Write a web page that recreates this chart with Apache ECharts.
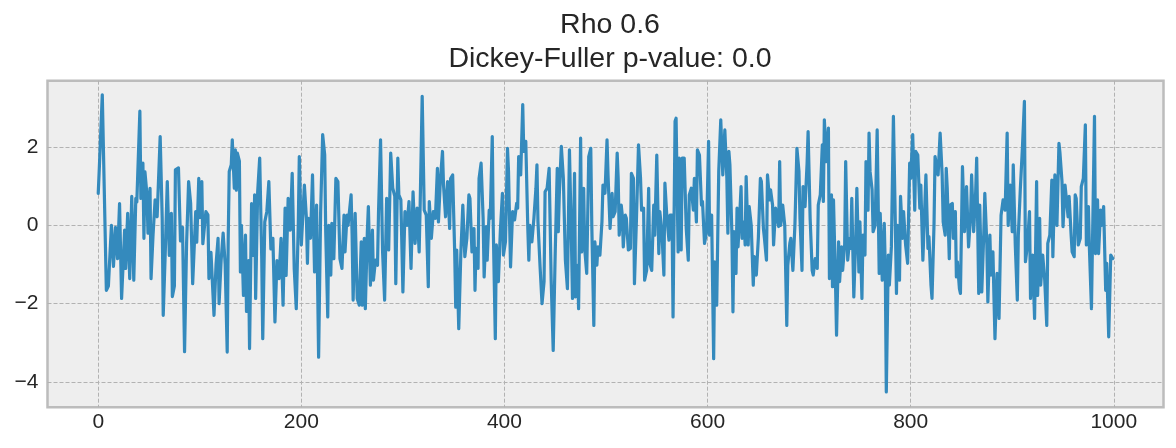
<!DOCTYPE html>
<html>
<head>
<meta charset="utf-8">
<script src="https://cdn.jsdelivr.net/npm/echarts@6/dist/echarts.min.js"></script>
<style>
html,body{margin:0;padding:0;background:#ffffff;}
#chart{width:1176px;height:448px;}
</style>
</head>
<body>
<div id="chart"></div>
<script>
var titleLines = ['Rho 0.6', 'Dickey-Fuller p-value: 0.0'];
var xTicks = [0, 200, 400, 600, 800, 1000];
var yTicks = [-4, -2, 0, 2];

var steps = [
0,1,4,8,10,13,15,17,19,21,23,26,27,29,31,33,35,37,38,41,42,44,45,46,48,49,51,52,54,56,58,61,63,64,66,68,70,72,73,75,76,79,81,83,85,87,89,91,93,96,97,
99,100,102,103,106,108,109,111,114,116,118,119,121,123,125,127,128,129,131,132,134,135,136,137,139,140,141,143,145,146,148,149,151,153,154,155,157,159,161,162,164,166,168,170,172,174,176,178,180,182,184,185,187,189,191,193,195,197,198,
200,203,205,206,207,209,211,213,215,217,219,221,223,224,226,227,229,230,232,234,236,238,240,242,243,245,246,249,250,251,253,255,257,259,260,262,263,265,266,268,270,271,273,275,276,278,280,282,284,286,288,290,292,293,295,296,298,300,302,304,306,308,
310,312,314,316,317,319,321,323,325,326,328,330,332,334,335,337,339,340,342,344,346,347,349,351,352,353,355,357,359,361,363,365,366,368,370,371,372,374,375,377,379,380,382,383,385,386,388,389,391,392,394,396,398,399,401,403,404,406,408,410,
412,413,414,416,418,419,421,423,424,425,427,429,431,432,433,435,437,439,440,442,444,446,448,450,452,453,454,456,458,460,462,464,466,467,469,470,472,473,475,476,478,479,481,483,485,486,488,489,491,492,494,496,497,499,501,502,504,506,507,509,511,512,513,
515,516,517,519,520,522,524,525,527,528,530,531,532,534,535,537,538,540,542,543,545,547,548,550,552,553,555,557,558,560,562,563,565,566,568,569,571,572,574,575,577,579,581,582,584,586,587,589,590,592,594,595,597,599,601,602,604,606,607,609,611,613,615,617,
619,620,621,622,624,625,626,628,629,630,632,633,634,636,637,638,640,641,643,645,646,648,650,652,653,655,656,658,659,661,662,664,665,667,668,670,671,672,674,676,678,679,681,682,684,686,688,690,691,693,694,696,698,699,701,703,704,706,708,709,711,713,714,715,717,719,720,
722,723,724,726,727,729,730,732,733,735,736,738,740,741,742,744,746,747,749,750,752,753,755,756,758,759,760,762,763,765,767,769,770,772,774,775,776,778,779,781,783,785,786,787,789,790,792,793,795,797,799,800,802,804,805,807,809,810,812,813,815,817,818,820,821,823,824,
827,829,831,832,834,835,836,838,839,841,842,844,845,846,848,849,851,853,855,856,857,859,860,862,864,865,867,868,870,872,873,875,876,878,879,881,882,883,885,887,889,891,893,895,896,898,900,901,903,905,906,908,910,912,913,915,917,918,920,922,924,925,927,
928,930,932,934,935,937,939,940,942,944,946,947,949,950,952,953,955,956,958,959,961,962,963,965,967,968,970,972,973,975,976,978,981,982,984,985,987,988,990,992,993,995,997,999
];

var values = [
0.82,1.42,3.34,-1.66,-1.55,0.0,-1.05,-0.05,-0.85,0.56,-1.87,-0.12,-1.1,0.31,-1.36,0.74,-1.4,0.69,0.6,2.92,0.69,1.59,-0.33,1.37,0.78,-0.2,0.95,-1.36,-0.23,0.65,0.22,2.27,0.18,-2.3,-0.69,1.12,-0.77,0.31,-1.82,-1.55,1.42,1.47,-0.4,-0.05,-3.23,-0.47,1.12,0.56,-1.49,0.35,-0.43,
1.2,0.2,1.12,-0.47,0.35,0.27,-1.36,-0.69,-2.3,-1.0,-0.33,-2.0,-0.9,-0.2,-1.0,-3.24,-0.33,1.38,1.55,2.19,0.95,1.93,0.9,1.85,1.64,-1.19,0.0,-1.79,-0.25,-2.2,-0.9,-3.15,0.56,-0.77,0.78,-1.87,0.86,1.72,-0.85,-2.9,0.09,0.35,1.12,-0.6,-0.33,-2.47,-0.9,-1.36,-0.33,-2.04,0.44,-1.28,0.69,-0.12,1.33,-1.11,-2.13,0.05,1.76,
-0.5,1.03,0.18,-0.97,0.18,-0.33,1.29,-1.19,0.52,-3.37,0.35,2.32,1.8,-0.16,-2.34,0.0,-1.27,0.05,-0.85,1.2,1.12,-0.85,-1.1,0.26,-0.68,0.26,0.0,0.78,-0.25,-1.91,0.31,-1.87,-2.04,-0.42,-2.04,-0.33,-2.13,-0.16,0.48,-1.53,-0.12,-1.4,-0.89,-1.02,0.35,2.19,-0.68,-1.91,0.69,-0.63,1.85,0.95,0.74,-1.49,1.72,0.78,0.65,-1.7,0.35,0.0,0.61,-1.1,
0.86,-0.46,0.44,-0.68,0.52,3.3,0.39,0.26,-1.57,0.61,-0.33,0.35,0.18,1.46,0.09,1.2,1.89,1.03,0.22,1.12,-0.08,1.2,1.29,-0.68,-2.09,-0.63,-2.64,-0.76,0.52,-0.8,-0.33,0.78,0.69,-0.68,-0.08,-1.66,-0.59,-1.1,1.2,1.59,0.18,-1.32,-0.03,-0.89,0.39,0.18,2.27,-0.08,-2.9,-0.5,-1.44,-0.12,0.82,-0.76,-0.42,1.97,1.38,-1.06,0.35,0.14,
0.56,0.44,1.76,1.29,3.09,1.89,2.15,-0.08,-0.89,0.0,-0.42,0.18,0.95,1.55,0.09,-1.02,-2.0,-1.44,0.86,0.95,1.46,-1.4,-3.2,-0.68,1.46,-0.16,0.78,2.02,1.2,-0.89,-1.62,1.93,-0.46,-1.87,1.33,-1.83,-1.02,-2.13,2.23,-0.68,0.95,-0.59,-1.23,1.76,1.97,0.0,-2.56,-0.42,-1.02,-0.55,-0.76,0.09,1.03,0.82,2.19,1.29,-0.08,0.82,0.22,0.35,1.85,1.2,-0.25,
0.52,0.26,-0.55,0.26,0.18,-0.63,-0.59,1.33,1.2,-1.49,0.18,1.12,2.06,1.2,0.39,0.44,-1.4,-1.15,0.95,-0.97,-1.15,0.52,-0.25,1.8,-0.72,0.35,-0.16,-1.27,1.08,0.18,-0.38,0.26,0.26,-2.34,2.66,2.74,-0.68,1.72,-0.63,1.72,1.72,-0.08,-0.89,0.78,0.95,0.39,1.2,0.09,1.93,1.8,0.52,0.61,-0.46,-0.16,2.15,-0.25,0.26,-3.41,-0.93,-2.04,1.38,2.7,1.29,2.44,
1.2,-0.2,1.89,1.55,-0.25,-2.21,-0.16,-1.23,0.44,-0.55,0.44,0.99,-0.33,0.09,-0.5,1.25,-0.5,0.48,0.0,-1.53,-0.8,-1.27,-0.33,1.2,1.12,-0.08,-0.33,-0.89,1.29,0.65,0.91,0.52,-0.5,0.44,0.26,-0.03,1.63,0.0,0.52,0.0,-2.56,-1.02,-0.46,-0.33,-1.15,0.0,1.97,1.38,0.18,-1.15,0.99,0.48,1.59,2.4,0.18,-1.15,-1.27,-0.85,-1.1,0.52,0.78,2.06,0.61,2.7,1.63,2.49,-1.36,
0.78,-1.57,0.65,-1.49,-2.81,-0.42,-1.44,-0.55,-1.15,-0.5,1.63,-0.89,-0.33,-0.59,0.69,-1.83,-0.25,0.95,-1.19,0.09,-1.87,-0.25,-0.76,1.63,0.39,2.36,1.38,0.91,-0.16,0.0,2.44,-1.23,0.31,-1.4,0.05,-1.1,-4.26,-0.76,-1.53,-0.55,2.79,-0.12,-1.74,0.0,-1.4,0.74,-0.33,0.35,-0.5,-0.97,1.59,1.2,2.32,0.39,1.89,1.8,0.44,1.03,-0.89,-0.16,1.29,-0.59,-0.29,-1.53,-1.87,0.05,1.76,
1.29,2.36,1.29,0.09,-0.25,1.46,0.95,-0.85,0.52,0.56,-0.33,0.35,-1.32,-0.93,-1.62,-1.74,1.5,-0.16,0.99,0.95,-0.55,0.26,1.29,-0.16,0.86,1.72,-1.74,0.52,-1.7,-0.2,0.82,-0.5,-1.96,-0.25,-1.27,-0.68,-1.83,-2.9,-1.23,-2.38,0.26,0.65,0.39,2.36,0.0,1.03,-0.16,1.55,-0.5,-1.91,-0.25,0.95,1.97,3.17,-0.93,-0.5,0.35,-1.87,-0.76,-2.38,1.12,-1.79,0.18,
-1.53,-0.76,-1.4,-2.56,-0.46,-0.25,1.16,-0.8,1.29,0.0,2.1,1.85,1.12,-0.03,1.03,1.08,0.22,0.74,-0.25,-0.68,-0.8,0.78,0.69,-0.5,-0.33,0.99,1.2,2.57,-0.5,0.48,-0.59,-2.13,2.79,-0.72,0.65,-0.72,0.39,0.0,0.48,-1.66,-0.97,-2.85,-0.76,-0.85
];

var seriesData = [];
for (var i = 0; i < Math.min(steps.length, values.length); i++) {
  seriesData.push([steps[i], values[i]]);
}

var chart = echarts.init(document.getElementById('chart'), null, {renderer: 'canvas'});
var labelFont = {
  color: '#262626',
  fontSize: 21,
  fontFamily: '"Liberation Sans", Arial, sans-serif'
};
chart.setOption({
  animation: false,
  backgroundColor: '#ffffff',
  title: {
    text: titleLines.join('\n'),
    left: 605,
    textAlign: 'center',
    top: 3,
    textStyle: {
      color: '#262626',
      fontSize: 28.5,
      fontWeight: 'normal',
      lineHeight: 34,
      fontFamily: '"Liberation Sans", Arial, sans-serif'
    }
  },
  grid: {
    show: true,
    left: 47.5,
    right: 12.5,
    top: 80.7,
    bottom: 40.8,
    backgroundColor: '#eeeeee',
    borderColor: '#bcbcbc',
    borderWidth: 2.5,
    containLabel: false
  },
  xAxis: {
    type: 'value',
    min: -49.95,
    max: 1048.95,
    axisLine: {show: false},
    axisTick: {show: false, customValues: xTicks},
    axisLabel: Object.assign({
      customValues: xTicks,
      margin: 5,
      formatter: function (v) { return String(v); }
    }, labelFont),
    splitLine: {show: true, lineStyle: {color: '#b2b2b2', width: 1, type: [4, 2]}}
  },
  yAxis: {
    type: 'value',
    min: -4.65,
    max: 3.7,
    axisLine: {show: false},
    axisTick: {show: false, customValues: yTicks},
    axisLabel: Object.assign({
      customValues: yTicks,
      margin: 9,
      formatter: function (v) { return String(v).replace('-', '\u2212'); }
    }, labelFont),
    splitLine: {show: true, lineStyle: {color: '#b2b2b2', width: 1, type: [4, 2]}}
  },
  series: [{
    type: 'line',
    data: seriesData,
    showSymbol: false,
    symbol: 'none',
    lineStyle: {color: '#348ABD', width: 3.2, join: 'round', cap: 'round'},
    itemStyle: {color: '#348ABD'},
    silent: true,
    z: 3
  }]
});
</script>
</body>
</html>
